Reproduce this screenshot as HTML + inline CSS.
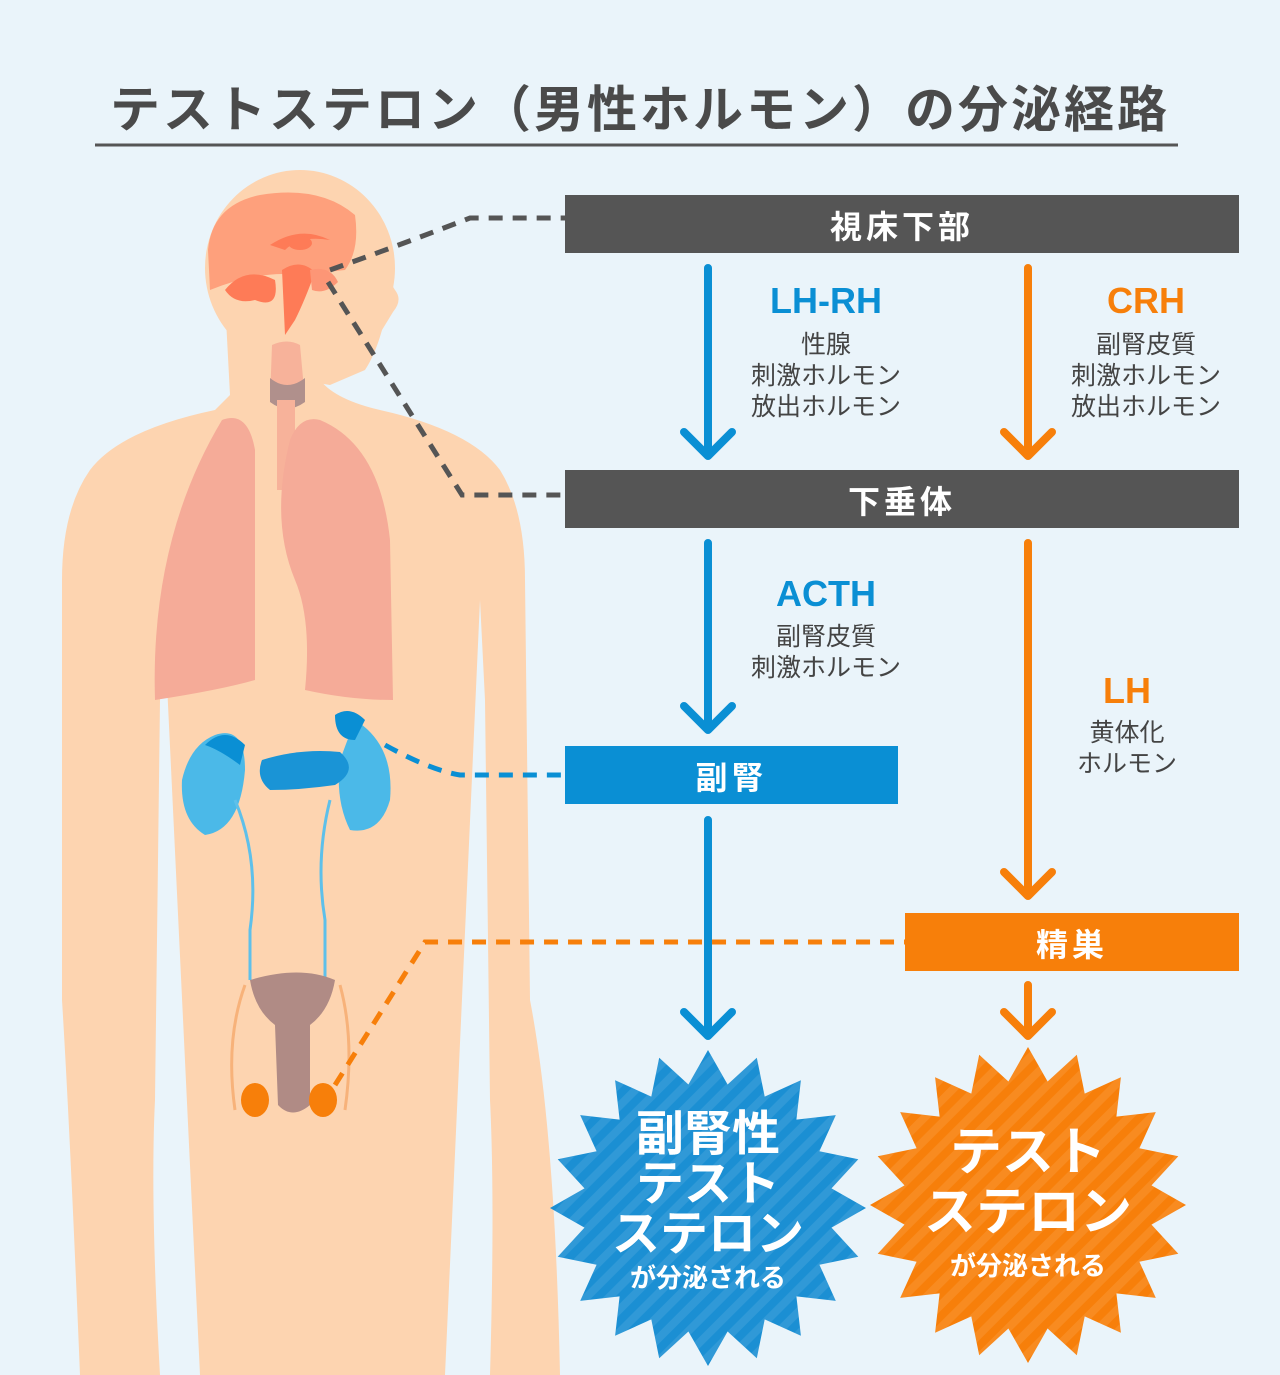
<!DOCTYPE html>
<html><head><meta charset="utf-8">
<style>
html,body{margin:0;padding:0}
body{width:1280px;height:1375px;background:#eaf4fa;position:relative;overflow:hidden;font-family:"Liberation Sans","Noto Sans CJK JP",sans-serif}
.t{position:absolute;font-weight:bold}
</style></head><body>
<svg width="1280" height="1375" style="position:absolute;left:0;top:0">
<line x1="95" y1="145" x2="1178" y2="145" stroke="#555" stroke-width="3"/>
<g fill="#fdd4b0">
<ellipse cx="300" cy="268" rx="95" ry="98"/>
<path d="M225 300 L230 395 L215 410 Q120 430 90 470 Q62 510 62 580 L62 1000 Q70 1130 80 1375 L160 1375 Q150 1200 155 1100 L160 700 L163 600 L200 1375 L445 1375 L480 600 L485 700 L490 1100 Q495 1200 490 1375 L560 1375 Q555 1130 530 1000 L525 580 Q525 510 500 470 Q470 430 380 410 Q315 395 312 360 L315 300 Z"/>
<path d="M370 250 L395 290 Q403 300 393 312 L382 330 Q375 355 365 370 L330 385 L300 380 Z"/>
</g>
<path d="M208 250 Q212 205 260 195 Q320 185 355 215 Q360 250 345 270 L300 275 Q260 270 210 290 Z" fill="#fea07c"/>
<path d="M225 290 Q245 265 275 280 Q280 310 255 300 Q235 305 225 290Z" fill="#fe7b57"/>
<path d="M270 245 Q300 225 330 240 Q300 235 285 250 Z" fill="#fe7b57"/>
<ellipse cx="300" cy="243" rx="12" ry="7" fill="#fe7b57"/>
<path d="M282 270 Q300 258 315 272 Q305 300 295 320 L285 335 Z" fill="#fe7b57"/>
<path d="M310 270 Q330 265 338 282 Q325 295 312 290Z" fill="#fd9676"/>
<path d="M272 345 Q287 338 300 345 L305 400 L270 400 Z" fill="#f7b29a"/>
<path d="M270 378 Q287 392 305 378 L305 402 Q287 415 270 402Z" fill="#b0908c"/>
<rect x="277" y="400" width="18" height="90" fill="#f7b29a"/>
<path d="M222 420 Q248 410 255 450 L255 680 Q220 690 155 700 Q150 540 222 420Z" fill="#f5ab98"/>
<path d="M320 420 Q380 445 390 540 L393 700 Q350 700 305 690 Q312 620 295 580 Q270 520 290 440 Q300 415 320 420Z" fill="#f5ab98"/>
<path d="M215 735 Q245 725 245 770 Q240 830 205 835 Q180 820 182 780 Q190 745 215 735Z" fill="#4bb9e8"/>
<path d="M205 745 Q225 725 245 745 L240 765 Q220 750 205 745Z" fill="#0a8fd4"/>
<path d="M355 720 Q395 745 390 800 Q380 835 350 830 Q335 800 340 760 Z" fill="#4bb9e8"/>
<path d="M335 715 Q350 705 365 720 L355 740 Q335 740 335 715Z" fill="#0a8fd4"/>
<path d="M262 760 Q300 748 340 752 Q360 770 335 785 Q300 790 270 790 Q255 778 262 760Z" fill="#1a94d6"/>
<path d="M235 800 Q260 860 250 930 L250 980 M330 800 Q315 860 325 920 L325 980" stroke="#5ec0ea" stroke-width="3" fill="none"/>
<path d="M250 980 Q300 965 335 980 Q330 1010 310 1025 L310 1105 Q292 1120 278 1105 L275 1025 Q255 1010 250 980Z" fill="#b08b85"/>
<path d="M245 985 Q225 1040 235 1110 M340 985 Q355 1040 345 1110" stroke="#f7b27a" stroke-width="3" fill="none"/>
<ellipse cx="255" cy="1100" rx="14" ry="17" fill="#f77f0a"/>
<ellipse cx="323" cy="1100" rx="14" ry="17" fill="#f77f0a"/>
<path d="M330 270 Q400 245 470 218 L565 218" stroke="#555" stroke-width="5" stroke-dasharray="14 10" fill="none"/>
<path d="M328 282 L462 495 L565 495" stroke="#555" stroke-width="5" stroke-dasharray="14 10" fill="none"/>
<path d="M385 745 Q430 770 460 775 L565 775" stroke="#0a8fd4" stroke-width="5" stroke-dasharray="14 10" fill="none"/>
<path d="M335 1085 L425 942 L905 942" stroke="#f77f0a" stroke-width="5" stroke-dasharray="14 10" fill="none"/>
<rect x="565" y="195" width="674" height="58" fill="#555"/>
<rect x="565" y="470" width="674" height="58" fill="#555"/>
<rect x="565" y="746" width="333" height="58" fill="#0a8fd4"/>
<rect x="905" y="913" width="334" height="58" fill="#f77f0a"/>
<g stroke-width="8" fill="none" stroke-linecap="round" stroke-linejoin="round">
<g stroke="#0a8fd4">
<path d="M708 268 V455 M684 432 L708 456 L732 432"/>
<path d="M708 543 V730 M684 706 L708 730 L732 706"/>
<path d="M708 820 V1035 M684 1012 L708 1036 L732 1012"/>
</g>
<g stroke="#f77f0a">
<path d="M1028 268 V455 M1004 432 L1028 456 L1052 432"/>
<path d="M1028 543 V895 M1004 872 L1028 896 L1052 872"/>
<path d="M1028 985 V1035 M1004 1012 L1028 1036 L1052 1012"/>
</g>
</g>
</svg>
<svg width="1280" height="1375" style="position:absolute;left:0;top:0">
<defs><pattern id="st2" width="16" height="16" patternUnits="userSpaceOnUse" patternTransform="rotate(45)"><rect width="8" height="16" fill="rgba(255,255,255,0.09)"/></pattern></defs>
<polygon id="p1" fill="#1b8fd3"/><polygon id="p1s" fill="url(#st2)"/>
<polygon id="p2" fill="#f77f0a"/><polygon id="p2s" fill="url(#st2)"/>
</svg>
<script>
function star(cx,cy,ro,ri,n){let p=[];for(let i=0;i<2*n;i++){let a=Math.PI*i/n-Math.PI/2;let r=i%2?ri:ro;p.push((cx+r*Math.cos(a)).toFixed(1)+","+(cy+r*Math.sin(a)).toFixed(1));}return p.join(" ");}
let s1=star(708,1208,158,125,20),s2=star(1028,1205,158,125,20);
["p1","p1s"].forEach(i=>document.getElementById(i).setAttribute("points",s1));
["p2","p2s"].forEach(i=>document.getElementById(i).setAttribute("points",s2));
</script>
<div class="t" style="left:0;width:1280px;top:70px;text-align:center;font-size:50px;color:#4a4a4a;letter-spacing:3px">テストステロン（男性ホルモン）の分泌経路</div>
<div class="t" style="left:565px;width:674px;top:202px;text-align:center;font-size:32px;color:#fff;letter-spacing:4px">視床下部</div>
<div class="t" style="left:565px;width:674px;top:477px;text-align:center;font-size:32px;color:#fff;letter-spacing:4px">下垂体</div>
<div class="t" style="left:565px;width:333px;top:753px;text-align:center;font-size:32px;color:#fff;letter-spacing:4px">副腎</div>
<div class="t" style="left:905px;width:334px;top:920px;text-align:center;font-size:32px;color:#fff;letter-spacing:4px">精巣</div>
<div class="t" style="left:726px;width:200px;top:280px;text-align:center;font-size:36px;color:#0a8fd4">LH-RH</div>
<div class="t" style="left:726px;width:200px;top:330px;text-align:center;font-size:25px;line-height:31px;color:#444;font-weight:normal">性腺<br>刺激ホルモン<br>放出ホルモン</div>
<div class="t" style="left:1046px;width:200px;top:280px;text-align:center;font-size:36px;color:#f77f0a">CRH</div>
<div class="t" style="left:1046px;width:200px;top:330px;text-align:center;font-size:25px;line-height:31px;color:#444;font-weight:normal">副腎皮質<br>刺激ホルモン<br>放出ホルモン</div>
<div class="t" style="left:726px;width:200px;top:573px;text-align:center;font-size:36px;color:#0a8fd4">ACTH</div>
<div class="t" style="left:726px;width:200px;top:622px;text-align:center;font-size:25px;line-height:31px;color:#444;font-weight:normal">副腎皮質<br>刺激ホルモン</div>
<div class="t" style="left:1027px;width:200px;top:670px;text-align:center;font-size:36px;color:#f77f0a">LH</div>
<div class="t" style="left:1027px;width:200px;top:718px;text-align:center;font-size:25px;line-height:31px;color:#444;font-weight:normal">黄体化<br>ホルモン</div>
<div class="t" style="left:558px;width:300px;top:1110px;text-align:center;font-size:48px;line-height:50px;color:#fff">副腎性<br>テスト<br>ステロン</div>
<div class="t" style="left:558px;width:300px;top:1258px;text-align:center;font-size:26px;color:#fff">が分泌される</div>
<div class="t" style="left:878px;width:300px;top:1123px;text-align:center;font-size:52px;line-height:60px;color:#fff">テスト<br>ステロン</div>
<div class="t" style="left:878px;width:300px;top:1246px;text-align:center;font-size:26px;color:#fff">が分泌される</div>
</body></html>
